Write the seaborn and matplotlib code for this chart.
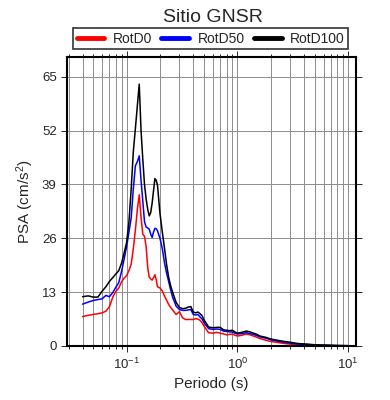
import numpy as np
import pandas as pd
import matplotlib
matplotlib.use("Agg")
import matplotlib.pyplot as plt
import matplotlib.ticker as mticker
import seaborn as sns

# ---- data ----
periodo = [0.040, 0.045, 0.050, 0.055, 0.060, 0.065, 0.070, 0.075, 0.080, 0.085,
           0.090, 0.095, 0.100, 0.105, 0.110, 0.115, 0.120, 0.125, 0.130, 0.135,
           0.140, 0.145, 0.150, 0.155, 0.160, 0.165, 0.170, 0.175, 0.180, 0.185,
           0.190, 0.200, 0.210, 0.220, 0.230, 0.240, 0.250, 0.260, 0.280, 0.300,
           0.320, 0.340, 0.360, 0.380, 0.400, 0.420, 0.440, 0.460, 0.480, 0.500,
           0.550, 0.600, 0.650, 0.700, 0.750, 0.800, 0.850, 0.900, 0.950, 1.0,
           1.1, 1.2, 1.3, 1.4, 1.5, 1.6, 1.8, 2.0, 2.5, 3.0,
           3.5, 4.0, 5.0, 6.0, 7.0, 8.0, 9.0, 10.0]

rotd0 = [7.1, 7.4, 7.6, 7.8, 8.0, 8.4, 9.5, 11.8, 13.2, 14.0,
         15.5, 16.4, 17.0, 18.2, 19.8, 23.5, 28.0, 33.0, 36.5, 31.0,
         27.0, 26.5, 24.0, 19.0, 16.6, 16.2, 15.9, 16.5, 17.2, 16.0,
         14.3, 14.0, 13.3, 12.0, 11.0, 10.0, 9.3, 8.7, 7.6, 8.3,
         6.8, 6.4, 6.4, 6.4, 6.4, 6.6, 6.5, 6.2, 5.6, 4.8,
         3.2, 3.1, 3.3, 3.1, 2.9, 2.7, 2.8, 2.9, 2.6, 2.4,
         2.6, 2.9, 2.7, 2.4, 2.1, 1.8, 1.4, 1.1, 0.7, 0.45,
         0.3, 0.22, 0.15, 0.1, 0.08, 0.06, 0.05, 0.04]

rotd50 = [10.1, 10.6, 11.0, 11.2, 11.4, 12.2, 11.9, 12.9, 14.2, 15.3,
          18.0, 21.0, 24.0, 27.5, 31.0, 38.0, 43.5, 44.5, 45.9, 40.0,
          35.0, 30.0, 28.7, 28.5, 28.2, 27.0, 26.2, 27.5, 28.4, 28.3,
          27.8, 26.0, 23.5, 20.0, 17.5, 15.5, 13.5, 11.8, 9.6, 8.8,
          8.6, 8.6, 8.7, 8.8, 7.6, 7.5, 7.6, 7.0, 6.5, 5.6,
          4.2, 4.0, 4.1, 4.0, 3.6, 3.5, 3.4, 3.4, 3.1, 2.9,
          3.0, 3.2, 3.0, 2.8, 2.5, 2.2, 1.9, 1.5, 1.0, 0.7,
          0.5, 0.4, 0.25, 0.18, 0.14, 0.1, 0.08, 0.07]

rotd100 = [11.9, 12.1, 11.8, 11.8, 13.2, 14.3, 15.6, 16.5, 17.4, 18.2,
           20.0, 22.5, 25.0, 30.0, 38.0, 47.0, 52.5, 58.0, 63.2, 52.0,
           45.0, 39.0, 35.5, 33.0, 31.4, 32.2, 34.5, 37.5, 40.4, 40.0,
           38.8, 32.0, 27.5, 23.5, 19.5, 16.5, 14.5, 13.0, 10.5, 9.3,
           9.0, 9.1, 9.4, 9.5, 8.2, 8.0, 8.2, 7.8, 7.3, 6.3,
           4.6, 4.4, 4.5, 4.5, 3.9, 3.8, 3.7, 3.8, 3.4, 3.1,
           3.3, 3.6, 3.4, 3.1, 2.8, 2.4, 2.1, 1.7, 1.2, 0.9,
           0.6, 0.5, 0.3, 0.22, 0.17, 0.12, 0.1, 0.08]

series = ["RotD0", "RotD50", "RotD100"]
colors = ["red", "blue", "black"]
yticks = [0, 13, 26, 39, 52, 65]

df = pd.concat([
    pd.DataFrame({"Periodo": periodo, "PSA": vals, "Comp": name})
    for name, vals in zip(series, [rotd0, rotd50, rotd100])
])

# ---- style ----
sns.set_style("white")
plt.rcParams["font.family"] = ["Liberation Sans", "DejaVu Sans"]
plt.rcParams["mathtext.fontset"] = "custom"
plt.rcParams["mathtext.rm"] = "Liberation Sans"
plt.rcParams["mathtext.it"] = "Liberation Sans:italic"

fig = plt.figure(figsize=(3.9, 4.0), dpi=100)
ax = fig.add_axes([0.172, 0.135, 0.74, 0.723])

sns.lineplot(data=df, x="Periodo", y="PSA", hue="Comp", palette=colors,
             linewidth=1.1, ax=ax, legend=True)

ax.set_xscale("log")
ax.set_xlim(0.029, 11.7)
ax.set_ylim(0, 69.8)
ax.set_yticks(yticks)
ax.xaxis.set_minor_locator(mticker.LogLocator(base=10, subs=np.arange(2, 10)))
ax.xaxis.set_minor_formatter(mticker.NullFormatter())

ax.grid(True, which="major", axis="both", color="#8c8c8c", linewidth=0.7)
ax.grid(True, which="minor", axis="x", color="#8c8c8c", linewidth=0.7)

for s in ax.spines.values():
    s.set_linewidth(1.5)
    s.set_color("black")

ax.tick_params(which="major", direction="out", length=4, width=0.7,
               top=True, right=True, bottom=True, left=True, labelsize=9.5)
ax.tick_params(which="minor", direction="out", length=2.5, width=0.7,
               top=True, bottom=True)

ax.set_xlabel("Periodo (s)", fontsize=11)
ax.set_ylabel("PSA (cm/s$^2$)", fontsize=11, labelpad=4)
fig.suptitle("Sitio GNSR", fontsize=14, x=0.545, y=0.978)

handles, labels = ax.get_legend_handles_labels()
leg = ax.legend(handles, labels, loc="lower left", ncol=3, mode="expand",
                bbox_to_anchor=(0.021, 1.027, 0.953, 0.073),
                fontsize=10, frameon=True, fancybox=False, handlelength=2.0,
                borderaxespad=0, borderpad=0.25, handletextpad=0.6)
leg.get_frame().set_edgecolor("black")
leg.get_frame().set_linewidth(1.2)
for h in leg.legend_handles:
    h.set_linewidth(3.5)

fig.savefig("out.png", dpi=100)
